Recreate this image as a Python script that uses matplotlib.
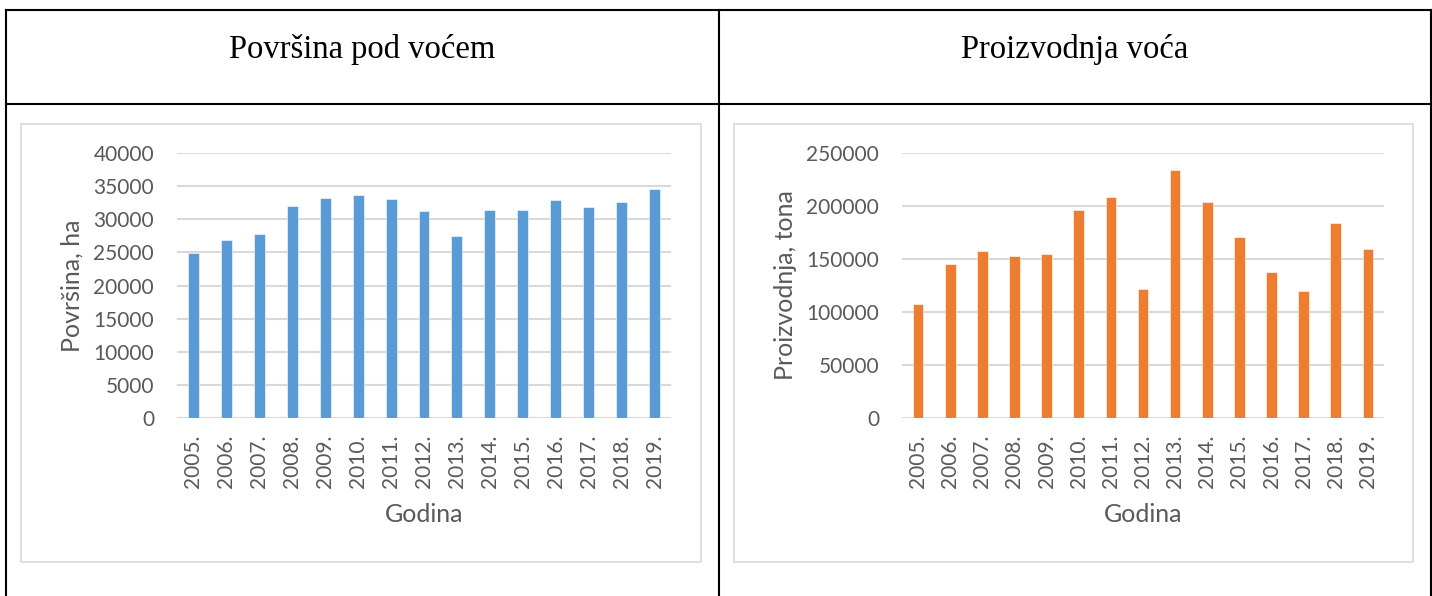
import matplotlib
matplotlib.use("Agg")
import matplotlib.pyplot as plt
from matplotlib.patches import Rectangle
from matplotlib.lines import Line2D

# Data
godine = ["2005.", "2006.", "2007.", "2008.", "2009.", "2010.", "2011.", "2012.",
          "2013.", "2014.", "2015.", "2016.", "2017.", "2018.", "2019."]
povrsina_ha = [24900, 26800, 27700, 32000, 33200, 33600, 33050, 31200,
               27400, 31350, 31400, 32850, 31900, 32650, 34550]
proizvodnja_t = [107200, 145600, 157200, 152800, 154400, 195900, 208200, 121700,
                 234300, 204100, 171100, 137400, 120100, 183600, 159100]
povrsina_ticks = [0, 5000, 10000, 15000, 20000, 25000, 30000, 35000, 40000]
proizvodnja_ticks = [0, 50000, 100000, 150000, 200000, 250000]
naslovi = ["Površina pod voćem", "Proizvodnja voća"]

W, H = 1432, 596
fig = plt.figure(figsize=(W / 100, H / 100), dpi=100)
fig.patch.set_facecolor("white")

# Background canvas in pixel coordinates for the table frame
bg = fig.add_axes([0, 0, 1, 1])
bg.set_xlim(0, W)
bg.set_ylim(H, 0)
bg.axis("off")

frame_kw = dict(color="black", lw=1.5, solid_capstyle="projecting")
bg.add_line(Line2D([5.5, 1431], [10, 10], **frame_kw))
bg.add_line(Line2D([5.5, 1431], [103.5, 103.5], **frame_kw))
for x in (5.5, 719, 1431):
    bg.add_line(Line2D([x, x], [10, H], **frame_kw))

# Header titles
for cx, t in zip((362, 1075), naslovi):
    bg.text(cx, 58, t, ha="center", va="baseline",
            fontsize=23.5, family="Liberation Serif", color="black")

# Chart frames
for (x0, x1) in ((21, 701), (733.7, 1413)):
    bg.add_patch(Rectangle((x0, 124), x1 - x0, 562 - 124, fill=False,
                           edgecolor="#D9D9D9", lw=1.2))

TEXT = "#595959"
GRID = "#D9D9D9"


def make_chart(px0, px1, values, ticks, color, ylabel, ylab_x):
    top, bottom = 153, 418
    ax = fig.add_axes([px0 / W, 1 - bottom / H, (px1 - px0) / W, (bottom - top) / H])
    ax.set_facecolor("none")
    xs = list(range(len(godine)))
    ax.bar(xs, values, width=0.33, color=color, edgecolor="white",
           linewidth=0.4, zorder=3)
    ax.set_xlim(-0.5, len(godine) - 0.5)
    ax.set_ylim(ticks[0], ticks[-1])
    ax.set_yticks(ticks)
    ax.set_yticklabels([str(t) for t in ticks])
    ax.set_xticks(xs)
    ax.set_xticklabels(godine, rotation=90, va="top", ha="center")
    ax.grid(axis="y", color=GRID, lw=1.5, zorder=0)
    ax.set_axisbelow(True)
    for s in ax.spines.values():
        s.set_visible(False)
    ax.tick_params(axis="both", length=0, colors=TEXT, labelsize=15)
    ax.tick_params(axis="y", pad=16.5)
    ax.tick_params(axis="x", pad=12)
    for lab in ax.get_xticklabels() + ax.get_yticklabels():
        lab.set_family("Lato")
    ax.set_ylabel(ylabel, fontsize=18, color=TEXT, family="Lato")
    ax.yaxis.label.set_va("center")
    ax.yaxis.set_label_coords((ylab_x - px0) / (px1 - px0), 0.5)
    ax.set_xlabel("Godina", fontsize=18, color=TEXT, family="Lato")
    ax.xaxis.label.set_va("center")
    ax.xaxis.set_label_coords(0.5, (bottom - 514) / (bottom - top))
    return ax


make_chart(177, 671, povrsina_ha, povrsina_ticks, "#5B9BD5", "Površina, ha", 72)
make_chart(902, 1384, proizvodnja_t, proizvodnja_ticks, "#ED7D31", "Proizvodnja, tona", 785)

fig.savefig("out.png", dpi=100)
